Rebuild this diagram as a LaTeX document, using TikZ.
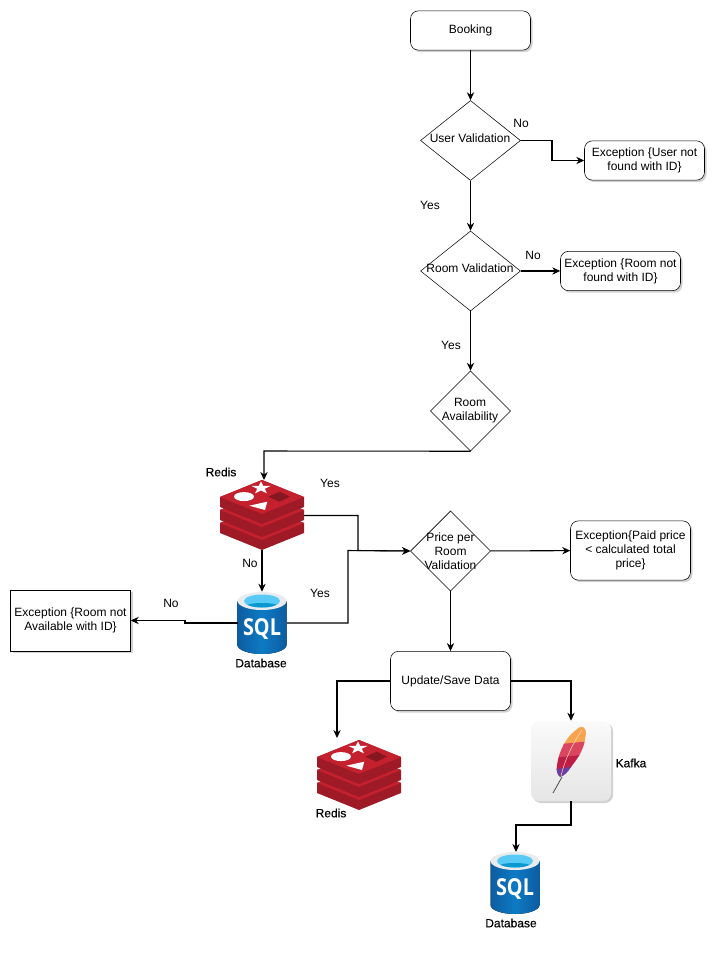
\documentclass[tikz,border=0pt]{standalone}
\usepackage{fontspec}
\setmainfont{Liberation Sans}
\newfontfamily\sqlfont{Open Sans}
\newfontfamily\iconfont[FakeBold=.35]{Liberation Sans}
\usetikzlibrary{shapes.geometric,shadows,arrows.meta}
\definecolor{redisdark}{HTML}{9E1A26}
\definecolor{redistop}{HTML}{C4202E}
\definecolor{sqlblue}{HTML}{0F6CBD}
\definecolor{featherorange}{HTML}{F7A350}
\definecolor{featherpink}{HTML}{DA4560}
\definecolor{feathercrimson}{HTML}{BE1E45}
\definecolor{featherpurple}{HTML}{6B3FA0}
\tikzset{
	softshadow/.style={drop shadow={shadow xshift=1.5pt,shadow yshift=-1.5pt,opacity=.3,fill=black!60}},
	flowbox/.style={draw,rounded corners=6pt,minimum width=90pt,align=center,font=\fontsize{9}{10.5}\selectfont,fill=white,softshadow,inner sep=1pt},
	decision/.style={draw,diamond,aspect=1.25,align=center,font=\fontsize{9}{10.5}\selectfont,fill=white,inner sep=0pt},
	plainlabel/.style={font=\fontsize{9}{10.5}\selectfont,inner sep=0pt},
	iconlabel/.style={font=\iconfont\fontsize{9}{10.5}\selectfont,inner sep=0pt},
	iconspot/.style={inner sep=0pt},
	flow/.style={draw,-{Stealth[length=6pt,width=5.5pt]},line width=.8pt},
	redislayer/.pic={
		\fill[redisdark] (-42,0) -- (0,-17) -- (42,0) -- (42,10) -- (0,27) -- (-42,10) -- cycle;
		\fill[redistop] (-42,0) -- (0,-17) -- (42,0) -- (0,17) -- cycle;
	},
	redisicon/.pic={
		\pic at (0,8) {redislayer};
		\pic at (0,-5) {redislayer};
		\pic at (0,-18) {redislayer};
		\fill[white] (-18,-18.4) ellipse (10 and 4.5);
		\fill[white,shift={(-1,-27)}] plot[samples at={0,...,9},variable=\k] ({(mod(\k,2)==0?10:4)*sin(36*\k)},{(mod(\k,2)==0?6.5:2.5)*-cos(36*\k)}) -- cycle;
		\fill[white] (-12.7,-9.3) -- (5.3,-13.3) -- (3,-5) -- cycle;
		\fill[redisdark!85!black] (6.3,-18.3) -- (18,-23.3) -- (28,-18.3) -- (17.3,-13.3) -- cycle;
	},
	sqlicon/.pic={
		\fill[left color=sqlblue!85!black,right color=sqlblue!85!black,middle color=sqlblue!90!cyan] (-24.5,-22) -- (-24.5,22) arc[start angle=180,end angle=0,x radius=24.5,y radius=9] -- (24.5,-22) -- cycle;
		\fill[cyan!25!black!10] (0,-22) ellipse (24.5 and 9);
		\fill[cyan!65!white] (0,-22) ellipse (18 and 6.5);
		\begin{scope}
			\clip (0,-22) ellipse (18 and 6.5);
			\fill[sqlblue!70!cyan] (0,-16.5) ellipse (17 and 3.5);
		\end{scope}
		\node[text=white,font=\sqlfont\bfseries\fontsize{17.5}{17.5}\selectfont,inner sep=0pt,xscale=.85] (sqltext) at (0,6) {SQL};
	},
	kafkafeather/.pic={
		\draw[black!70,line width=.6pt] (-9,16) -- (-18,32);
		\begin{scope}
			\clip (12,-34) .. controls (16,-32) and (15,-26) .. (14,-22) .. controls (12,-9) and (6,-2) .. (0,6) .. controls (-3,11) and (-7,15) .. (-11,16) .. controls (-14,14) and (-15,9) .. (-14,4) .. controls (-12,-10) and (-5,-24) .. (5,-31) .. controls (7,-33) and (9,-35) .. (12,-34) -- cycle;
			\fill[featherorange] (-20,-40) rectangle (20,-15);
			\fill[featherpink] (-20,-16) -- (20,-20) -- (20,-6) -- (-20,-2) -- cycle;
			\fill[feathercrimson] (-20,-3) -- (20,-7) -- (20,4) -- (-20,10) -- cycle;
			\fill[featherpurple] (-20,9) -- (20,3) -- (20,20) -- (-20,20) -- cycle;
		\end{scope}
		\draw[white!70!orange,line width=.4pt] (11,-31) .. controls (2,-18) and (-6,-2) .. (-10,15);
	}
}
\begin{document}
\begin{tikzpicture}[x=.75pt,y=-.75pt]
	\useasboundingbox (0,0) rectangle (721,955);

	\node[flowbox,minimum height=29.5pt] (booking) at (470.5,30.5) {Booking};
	\node[decision,minimum width=75pt,minimum height=60pt] (uservalid) at (470.5,140.5) {};
	\node[plainlabel] (uservalidtext) at (470,138) {User Validation};
	\node[flowbox,minimum height=29.5pt] (excuser) at (644.5,160.5) {Exception \{User not\\found with ID\}};
	\node[decision,minimum width=75pt,minimum height=60pt] (roomvalid) at (470.5,271) {};
	\node[plainlabel] (roomvalidtext) at (470,268) {Room Validation};
	\node[flowbox,minimum height=29.5pt] (excroom) at (620.5,271) {Exception \{Room not\\found with ID\}};
	\node[decision,minimum width=60pt,minimum height=60pt,aspect=1] (avail) at (470.5,411) {};
	\node[plainlabel,align=center] (availtext) at (470,411) {Room\\Availability};
	\node[iconspot,minimum width=63pt,minimum height=52.5pt] (redisa) at (262,515) {};
	\pic at (262,515) {redisicon};
	\node[iconspot,minimum width=37pt,minimum height=46.5pt] (sqla) at (262,623) {};
	\pic at (262,623) {sqlicon};
	\node[decision,minimum width=60pt,minimum height=60pt,aspect=1] (price) at (450.5,551) {};
	\node[plainlabel,align=center] (pricetext) at (450.5,551) {Price per\\Room\\Validation};
	\node[flowbox,minimum height=44.5pt] (excpaid) at (630.5,550.5) {Exception\{Paid price\\< calculated total\\price\}};
	\node[flowbox,rounded corners=0pt,minimum height=45.5pt] (excavail) at (70.5,620.5) {Exception \{Room not\\Available with ID\}};
	\node[flowbox,minimum height=44.5pt] (update) at (450.5,681) {Update/Save Data};
	\node[iconspot,minimum width=63pt,minimum height=52.5pt] (redisb) at (359,775) {};
	\pic at (359,775) {redisicon};
	\node[draw=none,rounded corners=6pt,minimum width=60pt,minimum height=60pt,inner sep=0pt,top color=black!2,bottom color=black!10,softshadow] (kafka) at (571,761) {};
	\pic at (571,761) {kafkafeather};
	\node[iconspot,minimum width=37pt,minimum height=46.5pt] (sqlb) at (515,883) {};
	\pic at (515,883) {sqlicon};

	\node[iconlabel] (redislabela) at (221,472) {Redis};
	\node[iconlabel] (dblabela) at (261,663) {Database};
	\node[iconlabel] (redislabelb) at (331,813) {Redis};
	\node[iconlabel] (kafkalabel) at (631,763) {Kafka};
	\node[iconlabel] (dblabelb) at (511,923) {Database};

	\node[plainlabel] (nouser) at (521,123) {No};
	\node[plainlabel] (yesuser) at (430,205) {Yes};
	\node[plainlabel] (noroom) at (533,255) {No};
	\node[plainlabel] (yesroom) at (451,345) {Yes};
	\node[plainlabel] (yesredis) at (330,483) {Yes};
	\node[plainlabel] (noredis) at (250,563) {No};
	\node[plainlabel] (yessql) at (320,593) {Yes};
	\node[plainlabel] (nosql) at (171,603) {No};

	\draw[flow] (booking) -- (uservalid);
	\draw[flow] (uservalid) -- (roomvalid);
	\draw[flow] (roomvalid) -- (avail);
	\draw[flow] (uservalid.east) -| (552,160.5) -- (excuser.west);
	\draw[flow] (roomvalid) -- (excroom);
	\draw[flow] (avail.south) -- (264,451) -- (264,480);
	\draw[flow] (304,515.5) -- (358,515.5) -- (358,550.5) -- (price.west);
	\draw[flow] (287,623) -- (348,623) -- (348,550.5) -- (price.west);
	\draw[flow] (redisa.south) -- (sqla.north);
	\draw[flow] (238,623) -- (185,623) -- (185,620.5) -- (excavail.east);
	\draw[flow] (price) -- (excpaid);
	\draw[flow] (price) -- (update);
	\draw[flow] (update.west) -- (337,681) -- (337,738);
	\draw[flow] (update.east) -- (571,681) -- (kafka.north);
	\draw[flow] (kafka.south) -- (571,825) -- (516,825) -- (516,852);
\end{tikzpicture}
\end{document}
